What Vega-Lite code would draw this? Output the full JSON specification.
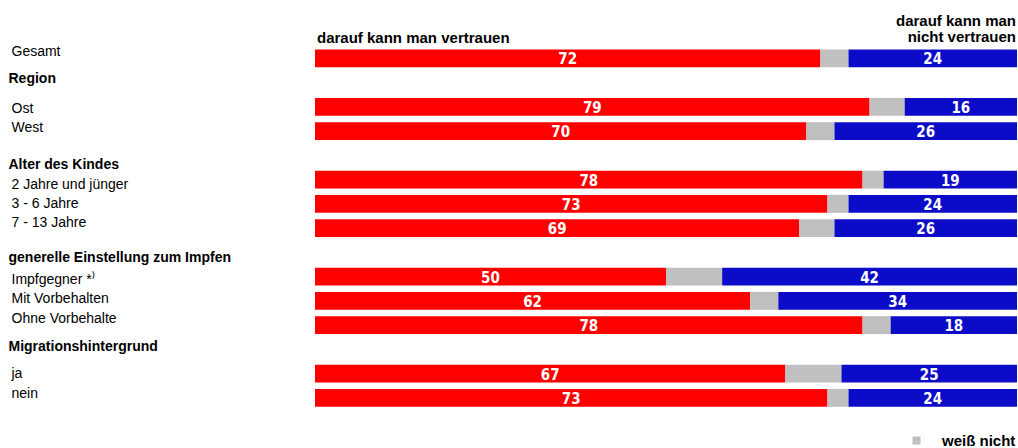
{
  "$schema": "https://vega.github.io/schema/vega-lite/v6.json",
  "width": 702,
  "height": 388,
  "autosize": {"type": "none"},
  "padding": {"left": 315, "top": 22, "right": 1, "bottom": 38},
  "background": "white",
  "config": {"view": {"stroke": null}, "font": "Liberation Sans"},
  "datasets": {
    "bars": [
      {"row": "Gesamt", "seg": "vertrauen", "ord": 1, "value": 72},
      {"row": "Gesamt", "seg": "weiß nicht", "ord": 2, "value": 4},
      {"row": "Gesamt", "seg": "nicht vertrauen", "ord": 3, "value": 24},
      {"row": "Ost", "seg": "vertrauen", "ord": 1, "value": 79},
      {"row": "Ost", "seg": "weiß nicht", "ord": 2, "value": 5},
      {"row": "Ost", "seg": "nicht vertrauen", "ord": 3, "value": 16},
      {"row": "West", "seg": "vertrauen", "ord": 1, "value": 70},
      {"row": "West", "seg": "weiß nicht", "ord": 2, "value": 4},
      {"row": "West", "seg": "nicht vertrauen", "ord": 3, "value": 26},
      {"row": "2 Jahre und jünger", "seg": "vertrauen", "ord": 1, "value": 78},
      {"row": "2 Jahre und jünger", "seg": "weiß nicht", "ord": 2, "value": 3},
      {"row": "2 Jahre und jünger", "seg": "nicht vertrauen", "ord": 3, "value": 19},
      {"row": "3 - 6 Jahre", "seg": "vertrauen", "ord": 1, "value": 73},
      {"row": "3 - 6 Jahre", "seg": "weiß nicht", "ord": 2, "value": 3},
      {"row": "3 - 6 Jahre", "seg": "nicht vertrauen", "ord": 3, "value": 24},
      {"row": "7 - 13 Jahre", "seg": "vertrauen", "ord": 1, "value": 69},
      {"row": "7 - 13 Jahre", "seg": "weiß nicht", "ord": 2, "value": 5},
      {"row": "7 - 13 Jahre", "seg": "nicht vertrauen", "ord": 3, "value": 26},
      {"row": "Impfgegner *⁾", "seg": "vertrauen", "ord": 1, "value": 50},
      {"row": "Impfgegner *⁾", "seg": "weiß nicht", "ord": 2, "value": 8},
      {"row": "Impfgegner *⁾", "seg": "nicht vertrauen", "ord": 3, "value": 42},
      {"row": "Mit Vorbehalten", "seg": "vertrauen", "ord": 1, "value": 62},
      {"row": "Mit Vorbehalten", "seg": "weiß nicht", "ord": 2, "value": 4},
      {"row": "Mit Vorbehalten", "seg": "nicht vertrauen", "ord": 3, "value": 34},
      {"row": "Ohne Vorbehalte", "seg": "vertrauen", "ord": 1, "value": 78},
      {"row": "Ohne Vorbehalte", "seg": "weiß nicht", "ord": 2, "value": 4},
      {"row": "Ohne Vorbehalte", "seg": "nicht vertrauen", "ord": 3, "value": 18},
      {"row": "ja", "seg": "vertrauen", "ord": 1, "value": 67},
      {"row": "ja", "seg": "weiß nicht", "ord": 2, "value": 8},
      {"row": "ja", "seg": "nicht vertrauen", "ord": 3, "value": 25},
      {"row": "nein", "seg": "vertrauen", "ord": 1, "value": 73},
      {"row": "nein", "seg": "weiß nicht", "ord": 2, "value": 3},
      {"row": "nein", "seg": "nicht vertrauen", "ord": 3, "value": 24}
    ],
    "heads": [
      {"row": "_top", "pos": 0, "side": "L", "txt": "darauf kann man vertrauen"},
      {"row": "_top", "pos": 100, "side": "R", "txt": "darauf kann man\nnicht vertrauen"}
    ]
  },
  "encoding": {
    "y": {
      "field": "row",
      "type": "nominal",
      "sort": null,
      "scale": {
        "domain": ["_top", "Gesamt", "Region", "Ost", "West", "Alter des Kindes", "2 Jahre und jünger", "3 - 6 Jahre", "7 - 13 Jahre", "generelle Einstellung zum Impfen", "Impfgegner *⁾", "Mit Vorbehalten", "Ohne Vorbehalte", "Migrationshintergrund", "ja", "nein"],
        "paddingInner": 0.26,
        "paddingOuter": 0.13
      },
      "axis": {
        "title": null,
        "domain": false,
        "ticks": false,
        "labelAlign": "left",
        "labelBaseline": "middle",
        "labelFont": "Liberation Sans",
        "labelFontSize": 14,
        "labelColor": "#000000",
        "labelLimit": 320,
        "labelExpr": "datum.value == '_top' ? '' : datum.value",
        "labelPadding": {"condition": {"test": "indexof(['Region','Alter des Kindes','generelle Einstellung zum Impfen','Migrationshintergrund'], datum.value) >= 0", "value": 307}, "value": 304},
        "labelFontWeight": {"condition": {"test": "indexof(['Region','Alter des Kindes','generelle Einstellung zum Impfen','Migrationshintergrund'], datum.value) >= 0", "value": "bold"}, "value": "normal"},
        "labelOffset": {"condition": [
          {"test": "datum.value == 'Gesamt'", "value": -6},
          {"test": "datum.value == 'Region'", "value": -4},
          {"test": "datum.value == 'Ost'", "value": 2},
          {"test": "datum.value == 'West'", "value": -3},
          {"test": "datum.value == 'Alter des Kindes'", "value": 10},
          {"test": "datum.value == '2 Jahre und jünger'", "value": 5},
          {"test": "datum.value == '7 - 13 Jahre'", "value": -5},
          {"test": "datum.value == 'generelle Einstellung zum Impfen'", "value": 6},
          {"test": "datum.value == 'Impfgegner *⁾'", "value": 3},
          {"test": "datum.value == 'Mit Vorbehalten'", "value": -2},
          {"test": "datum.value == 'Ohne Vorbehalte'", "value": -6},
          {"test": "datum.value == 'Migrationshintergrund'", "value": -2},
          {"test": "datum.value == 'nein'", "value": -4}
        ], "value": 0}
      }
    }
  },
  "layer": [
    {
      "data": {"name": "bars"},
      "transform": [
        {"stack": "value", "groupby": ["row"], "sort": [{"field": "ord", "order": "ascending"}], "as": ["x0", "x1"]},
        {"calculate": "(datum.x0 + datum.x1) / 2", "as": "mid"}
      ],
      "layer": [
        {
          "mark": {"type": "bar"},
          "encoding": {
            "x": {"field": "x0", "type": "quantitative", "scale": {"domain": [0, 100], "nice": false, "zero": true}, "axis": null},
            "x2": {"field": "x1"},
            "color": {
              "field": "seg",
              "type": "nominal",
              "scale": {"domain": ["vertrauen", "weiß nicht", "nicht vertrauen"], "range": ["#ff0000", "#c0c0c0", "#0c0cc8"]},
              "legend": {
                "values": ["weiß nicht"],
                "orient": "none",
                "legendX": 594,
                "legendY": 411,
                "title": null,
                "padding": 0,
                "symbolType": "square",
                "symbolSize": 64,
                "symbolStrokeWidth": 0,
                "symbolOpacity": 1,
                "labelFont": "Liberation Sans",
                "labelFontWeight": "bold",
                "labelFontSize": 15,
                "labelColor": "#000000",
                "labelOffset": 18
              }
            }
          }
        },
        {
          "transform": [{"filter": "datum.seg != 'weiß nicht'"}],
          "mark": {"type": "text", "font": "'Liberation Sans Narrow', 'DejaVu Sans Condensed', 'Liberation Sans', sans-serif", "fontWeight": "bold", "fontSize": 15, "color": "#ffffff", "baseline": "middle", "align": "center", "dy": 1},
          "encoding": {
            "x": {"field": "mid", "type": "quantitative"},
            "text": {"field": "value", "type": "quantitative"}
          }
        }
      ]
    },
    {
      "data": {"name": "heads"},
      "transform": [{"filter": "datum.side == 'L'"}],
      "mark": {"type": "text", "font": "Liberation Sans", "fontWeight": "bold", "fontSize": 15, "color": "#000000", "align": "left", "baseline": "middle", "dx": 2, "dy": 4},
      "encoding": {
        "x": {"field": "pos", "type": "quantitative"},
        "text": {"field": "txt"}
      }
    },
    {
      "data": {"name": "heads"},
      "transform": [{"filter": "datum.side == 'R'"}],
      "mark": {"type": "text", "font": "Liberation Sans", "fontWeight": "bold", "fontSize": 15, "color": "#000000", "align": "right", "baseline": "bottom", "lineBreak": "\n", "lineHeight": 16, "dx": -1, "dy": -5},
      "encoding": {
        "x": {"field": "pos", "type": "quantitative"},
        "text": {"field": "txt"}
      }
    }
  ]
}
